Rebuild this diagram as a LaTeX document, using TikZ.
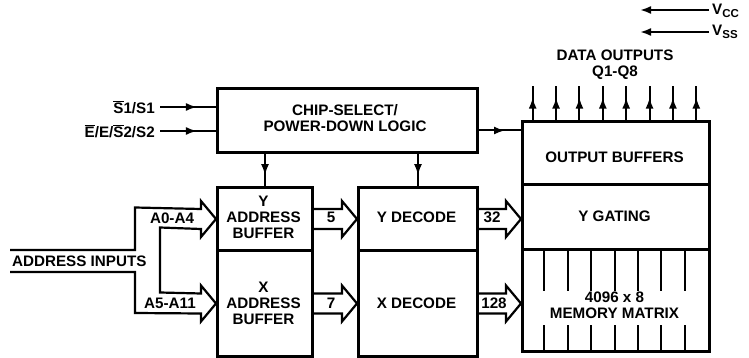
\documentclass[tikz,border=0pt]{standalone}
\usepackage{fontspec}
\setmainfont{Liberation Sans}
\usetikzlibrary{arrows.meta,decorations.markings,calc}
\tikzset{
  every node/.style={font=\bfseries\fontsize{15.2}{16}\selectfont, inner sep=0pt},
  blk/.style={draw, line width=3pt, anchor=north west, rectangle},
  wire/.style={line width=2pt},
  midarrow/.style={postaction={decorate}, decoration={markings, mark=at position #1 with {\arrow{Latex[length=11pt,width=8pt]}}}},
  bus/.style={line width=2.2pt, line join=miter},
  lbl/.style={align=center},
}
\newcommand\busarrow[2]{%
  \draw[bus] ($(#1)+(0,-10)$) -- ($(#2)+(-15,-10)$) -- ($(#2)+(-15,-18)$) -- (#2)
    -- ($(#2)+(-15,18)$) -- ($(#2)+(-15,10)$) -- ($(#1)+(0,10)$);}
\begin{document}
\begin{tikzpicture}[x=1pt,y=-1pt]
\useasboundingbox (0,0) rectangle (749,358);
% blocks
\node[blk, minimum width=260pt, minimum height=64pt] (chip) at (216,87) {};
\node[blk, minimum width=95pt, minimum height=63pt] (ybuf) at (216,186) {};
\node[blk, minimum width=95pt, minimum height=106pt] (xbuf) at (216,249) {};
\node[blk, minimum width=119pt, minimum height=63pt] (ydec) at (357,186) {};
\node[blk, minimum width=119pt, minimum height=106pt] (xdec) at (357,249) {};
\node[blk, minimum width=187pt, minimum height=63pt] (outbuf) at (521,120) {};
\node[blk, minimum width=187pt, minimum height=65pt] (ygate) at (521,183) {};
\node[blk, minimum width=187pt, minimum height=102pt] (mem) at (521,248) {};
% texts in blocks
\node[lbl] (chipt) at (345,118) {CHIP-SELECT/\\POWER-DOWN LOGIC};
\node[lbl] (ybuft) at (263.5,217.5) {Y\\ADDRESS\\BUFFER};
\node[lbl] (xbuft) at (263.5,303.5) {X\\ADDRESS\\BUFFER};
\node[lbl] (ydect) at (416.5,217.5) {Y DECODE};
\node[lbl] (xdect) at (416.5,303.5) {X DECODE};
\node[lbl] (outbuft) at (614.5,157) {OUTPUT BUFFERS};
\node[lbl] (ygatet) at (614.5,216) {Y GATING};
\node[lbl] (memt) at (614.5,305) {4096 x 8\\MEMORY MATRIX};
% memory matrix column lines
\foreach \i in {1,...,7}{
  \draw[wire] ($(mem.north west)+({23.375*\i},1.5)$) -- ++(0,41);
  \draw[wire] ($(mem.south west)+({23.375*\i},-1.5)$) -- ++(0,-27);
}
% data outputs
\node[lbl] (dout) at (615,65) {DATA OUTPUTS\\Q1-Q8};
\foreach \i in {0,...,7}{
  \coordinate (q\i) at ($(outbuf.north west)+({23.375*(\i+0.5)},-34)$);
  \draw[wire, midarrow=0.66] (q\i |- outbuf.north) -- (q\i);
}
% supply
\node[anchor=west] (vccl) at (712,11) {V\raisebox{-2.5pt}{\fontsize{11.5}{12}\selectfont CC}};
\node[anchor=west] (vssl) at (712,32) {V\raisebox{-2.5pt}{\fontsize{11.5}{12}\selectfont SS}};
\coordinate (vcce) at (640,10);
\coordinate (vsse) at (640,32);
\draw[wire, -{Latex[length=11pt,width=8pt]}] ($(vccl.west)+(-3,-1)$) -- (vcce);
\draw[wire, -{Latex[length=11pt,width=8pt]}] ($(vssl.west)+(-3,0)$) -- (vsse);
% chip select inputs
\coordinate (s1) at (160,107);
\coordinate (e1) at (160,131);
\node[anchor=east] (s1l) at (155,107) {$\overline{\hbox{S}}$1/S1};
\node[anchor=east] (e1l) at (155,131) {$\overline{\hbox{E}}$/E/$\overline{\hbox{S}}$2/S2};
\draw[wire, midarrow=0.66] (s1) -- (s1 -| chip.west);
\draw[wire, midarrow=0.66] (e1) -- (e1 -| chip.west);
% chip select outputs
\draw[wire, midarrow=0.66] (chip.south -| ybuf.north) -- (ybuf.north);
\draw[wire, midarrow=0.66] (chip.south -| ydec.north) -- (ydec.north);
\coordinate (c1) at ($(chip.east)+(0,10)$);
\draw[wire, midarrow=0.62] (c1) -- (c1 -| outbuf.west);
% address bus
\coordinate (ain) at (10,261);
\draw[bus] ($(ain)+(0,-11)$) -- (135,250) -- (135,207.5) -- ($(ybuf.west)+(-15,-10)$)
  -- ($(ybuf.west)+(-15,-18)$) -- (ybuf.west) -- ($(ybuf.west)+(-15,18)$)
  -- ($(ybuf.west)+(-15,10)$) -- (160,227.5) -- (160,292.5)
  -- ($(xbuf.west)+(-15,-10)$) -- ($(xbuf.west)+(-15,-18)$) -- (xbuf.west)
  -- ($(xbuf.west)+(-15,18)$) -- ($(xbuf.west)+(-15,10)$) -- (135,313)
  -- (135,272) -- ($(ain)+(0,11)$);
\node[anchor=west] (ainl) at (12,261) {ADDRESS INPUTS};
\node (a04) at (172,218) {A0-A4};
\node (a511) at (170,303) {A5-A11};
% internal buses
\busarrow{ybuf.east}{ydec.west}
\busarrow{xbuf.east}{xdec.west}
\coordinate (t32) at (ydec.east -| ygate.west);
\coordinate (t128) at (xdec.east -| mem.west);
\busarrow{ydec.east}{t32}
\busarrow{xdec.east}{t128}
\node (b5) at (331,217.5) {5};
\node (b7) at (331,303) {7};
\node (b32) at (492,217.5) {32};
\node (b128) at (494,303) {128};
\end{tikzpicture}
\end{document}
